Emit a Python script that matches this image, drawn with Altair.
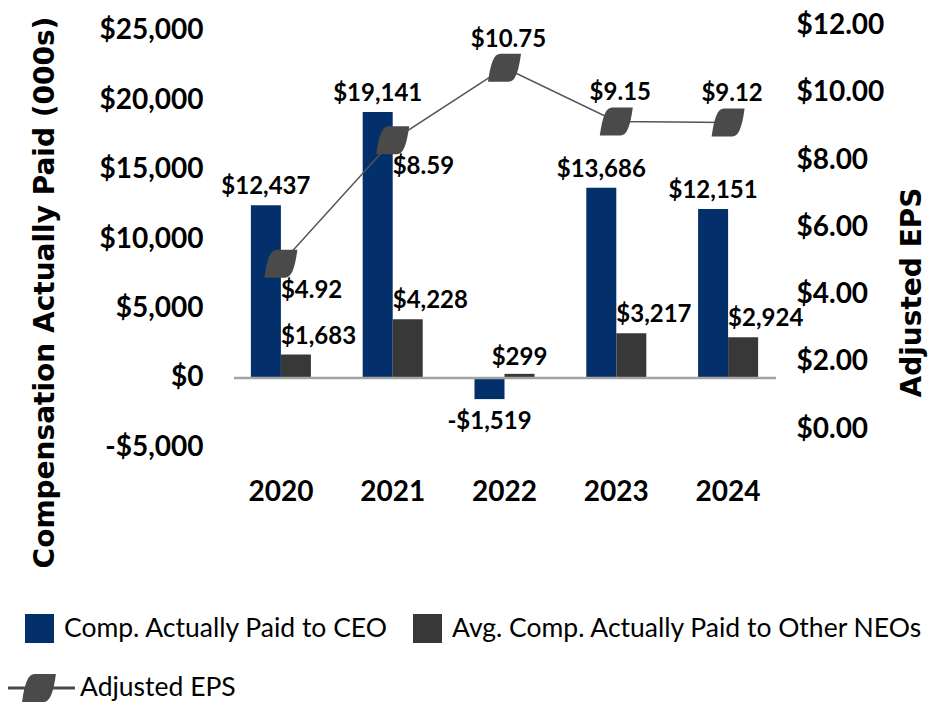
import altair as alt
import pandas as pd

# ---- data ----
years = ["2020", "2021", "2022", "2023", "2024"]
ceo_cap = [12437, 19141, -1519, 13686, 12151]
neo_cap = [1683, 4228, 299, 3217, 2924]
adj_eps = [4.92, 8.59, 10.75, 9.15, 9.12]
series_names = ["Comp. Actually Paid to CEO", "Avg. Comp. Actually Paid to Other NEOs"]
eps_name = "Adjusted EPS"
left_ticks = [-5000, 0, 5000, 10000, 15000, 20000, 25000]
right_ticks = [0, 2, 4, 6, 8, 10, 12]

NAVY = "#03306b"
GRAY = "#383838"
MARK = "#4a4a4a"
FONT = "Lato"
TFONT = "DejaVu Sans"

bars_df = pd.DataFrame({
    "year": years * 2,
    "series": [series_names[0]] * len(years) + [series_names[1]] * len(years),
    "value": ceo_cap + neo_cap,
})
eps_df = pd.DataFrame({"year": years, "eps": adj_eps, "series": eps_name})
zero_df = pd.DataFrame({"value": [0]})

leaf = "M 1 -0.85 C 0.85 0.25 0.65 0.85 0.25 0.85 L -1 0.85 C -0.85 -0.25 -0.65 -0.85 -0.25 -0.85 Z"
legend_path = ("M -1 -0.045 L 1 -0.045 L 1 0.045 L -1 0.045 Z "
               "M 0.47 -0.39 C 0.40 0.12 0.31 0.39 0.12 0.39 L -0.47 0.39 "
               "C -0.40 -0.12 -0.31 -0.39 -0.12 -0.39 Z")

x_axis = alt.Axis(title=None, labelAngle=0, labelFont=FONT, labelFontSize=28,
                  labelFontWeight="bold", labelColor="black", labelPadding=28,
                  ticks=False, domain=False, grid=False)
x_enc = alt.X("year:N", sort=years,
              scale=alt.Scale(domain=years, paddingInner=0.463, paddingOuter=0.2315),
              axis=x_axis)

left_axis = alt.Axis(values=left_ticks,
                     labelExpr="(datum.value < 0 ? '-' : '') + '$' + format(abs(datum.value), ',')",
                     labelFont=FONT, labelFontSize=28, labelFontWeight="bold",
                     labelColor="black", labelPadding=22, ticks=False, domain=False,
                     grid=False, title="Compensation Actually Paid (000s)",
                     titleFont=TFONT, titleFontSize=28, titleFontWeight="bold",
                     titleColor="black", titleX=-180, titleY=268, titleAngle=270,
                     titleAlign="center", titleBaseline="middle")
left_scale = alt.Scale(domain=[-5180, 25468], nice=False, zero=False)
y_left = alt.Y("value:Q", scale=left_scale, axis=left_axis)

right_axis = alt.Axis(orient="right", values=right_ticks,
                      labelExpr="'$' + format(datum.value, '.2f')",
                      labelFont=FONT, labelFontSize=28, labelFontWeight="bold",
                      labelColor="black", labelPadding=12, ticks=False, domain=False,
                      grid=False, title=eps_name, titleFont=TFONT, titleFontSize=28,
                      titleFontWeight="bold", titleColor="black", titleX=128,
                      titleY=268, titleAngle=270, titleAlign="center",
                      titleBaseline="middle")
y_right = alt.Y("eps:Q", scale=alt.Scale(domain=[-0.622, 12.05], nice=False, zero=False),
                axis=right_axis)

x_off = alt.XOffset("series:N", scale=alt.Scale(domain=series_names))

base_bar = alt.Chart(bars_df).encode(x=x_enc, xOffset=x_off, y=y_left)

bars = base_bar.mark_bar().encode(
    color=alt.Color("series:N",
                    scale=alt.Scale(domain=series_names, range=[NAVY, GRAY]),
                    legend=alt.Legend(orient="none", legendX=-200, legendY=590,
                                      direction="horizontal", title=None,
                                      symbolType="square", symbolSize=841,
                                      symbolStrokeWidth=0, labelFont=FONT,
                                      labelFontSize=26.5, labelColor="black",
                                      labelLimit=0, labelOffset=10,
                                      columnPadding=24, padding=0))
)

zero_rule = alt.Chart(zero_df).mark_rule(color="#a3a3a3", strokeWidth=2.5).encode(
    y=alt.Y("value:Q", scale=left_scale, axis=left_axis),
    x=alt.value(9), x2=alt.value(551))

lab_expr = "(datum.value < 0 ? '-' : '') + '$' + format(abs(datum.value), ',')"
txt = dict(font=FONT, fontSize=24, fontWeight="bold", color="black", baseline="alphabetic")

ceo_pos = base_bar.transform_filter(
    alt.datum.series == series_names[0]).transform_filter(alt.datum.value >= 0
).transform_calculate(label=lab_expr).mark_text(align="center", dy=-11, **txt).encode(text="label:N")

ceo_neg = base_bar.transform_filter(
    alt.datum.series == series_names[0]).transform_filter(alt.datum.value < 0
).transform_calculate(label=lab_expr).mark_text(align="center", dy=30, **txt).encode(text="label:N")

neo_lab = base_bar.transform_filter(
    alt.datum.series == series_names[1]).transform_filter(alt.datum.year != "2022"
).transform_calculate(label=lab_expr).mark_text(align="left", dx=-15, dy=-11, **txt).encode(text="label:N")

neo_lab_mid = base_bar.transform_filter(
    alt.datum.series == series_names[1]).transform_filter(alt.datum.year == "2022"
).transform_calculate(label=lab_expr).mark_text(align="center", dy=-9, **txt).encode(text="label:N")

left = alt.layer(bars, zero_rule, ceo_pos, ceo_neg, neo_lab, neo_lab_mid)

base_eps = alt.Chart(eps_df).encode(x=x_enc, y=y_right)
eps_line = base_eps.mark_line(color="#555555", strokeWidth=1.5)
eps_pts = base_eps.mark_point(shape=leaf, filled=True, size=1089, color=MARK,
                              opacity=1, strokeWidth=0)
eps_expr = "'$' + format(datum.eps, '.2f')"
eps_low = base_eps.transform_filter(
    (alt.datum.year == "2020") | (alt.datum.year == "2021")
).transform_calculate(label=eps_expr).mark_text(align="left", dx=0, dy=34, **txt).encode(text="label:N")
eps_high = base_eps.transform_filter(
    (alt.datum.year != "2020") & (alt.datum.year != "2021")
).transform_calculate(label=eps_expr).mark_text(align="center", dx=4, dy=-21, **txt).encode(text="label:N")

eps_legend = base_eps.transform_filter("false").mark_point(filled=True, color=MARK).encode(
    shape=alt.Shape("series:N",
                    scale=alt.Scale(domain=[eps_name], range=[legend_path]),
                    legend=alt.Legend(orient="none", legendX=-222, legendY=628,
                                      title=None, symbolSize=5184,
                                      symbolFillColor=MARK, symbolStrokeWidth=0,
                                      symbolOpacity=1, labelFont=FONT,
                                      labelFontSize=26.5, labelColor="black",
                                      labelLimit=0, labelOffset=5, padding=0))
)

right = alt.layer(eps_line, eps_pts, eps_low, eps_high, eps_legend)

chart = alt.layer(left, right).resolve_scale(y="independent").properties(
    width=559, height=426,
    padding={"left": 217, "top": 16, "right": 148, "bottom": 255},
    autosize=alt.AutoSizeParams(type="none"),
    background="white",
).configure_view(strokeWidth=0)

chart.save("out.html", embed_options={"renderer": "svg", "actions": False})
